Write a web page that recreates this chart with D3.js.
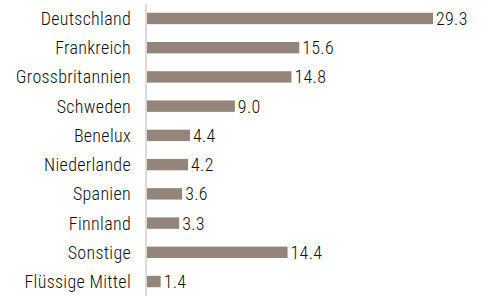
<!DOCTYPE html>
<html>
<head>
<meta charset="utf-8">
<script src="https://cdn.jsdelivr.net/npm/d3@7"></script>
<style>
  body { margin: 0; background: #fff; }
  text { font-family: "Roboto Condensed", "Liberation Sans", sans-serif; font-weight: 300; }
</style>
</head>
<body>
<div id="chart"></div>
<script>
let categories = ["Deutschland", "Frankreich", "Grossbritannien", "Schweden", "Benelux",
    "Niederlande", "Spanien", "Finnland", "Sonstige", "Flüssige Mittel"];
let values = [29.3, 15.6, 14.8, 9.0, 4.4, 4.2, 3.6, 3.3, 14.4, 1.4];

let margin = { top: 4, right: 10, bottom: 0, left: 146 },
    width = 482 - margin.left - margin.right,
    height = 296 - margin.top - margin.bottom;

let svg = d3.select("#chart")
    .append("svg")
    .attr("width", 482)
    .attr("height", 296)
    .append("g")
    .attr("transform", "translate(" + margin.left + "," + margin.top + ")");

let y = d3.scaleBand()
    .domain(categories)
    .range([0, height])
    .paddingInner(0.61)
    .paddingOuter(0.3);

let x = d3.scaleLinear()
    .domain([0, 29.3])
    .range([1, 287]);

svg.selectAll("rect")
    .data(values)
    .enter()
    .append("rect")
    .attr("x", x(0))
    .attr("y", function (d, i) { return y(categories[i]); })
    .attr("width", function (d) { return x(d) - x(0); })
    .attr("height", y.bandwidth())
    .style("fill", "#948479");

// vertical axis line
svg.append("line")
    .attr("x1", 0).attr("x2", 0)
    .attr("y1", 0).attr("y2", height + 4)
    .style("stroke", "#cfcfcf")
    .style("stroke-width", 1.5);

svg.selectAll(".cat")
    .data(categories)
    .enter()
    .append("text")
    .attr("x", -15)
    .attr("y", function (d) { return y(d) + y.bandwidth() / 2; })
    .attr("dy", "0.36em")
    .attr("text-anchor", "end")
    .attr("font-size", "18px")
    .attr("letter-spacing", "0.3px")
    .attr("fill", "#111")
    .text(function (d) { return d; });

svg.selectAll(".val")
    .data(values)
    .enter()
    .append("text")
    .attr("x", function (d) { return x(d) + 3; })
    .attr("y", function (d, i) { return y(categories[i]) + y.bandwidth() / 2; })
    .attr("dy", "0.36em")
    .attr("font-size", "18px")
    .attr("letter-spacing", "0.3px")
    .attr("fill", "#111")
    .text(function (d) { return d.toFixed(1); });
</script>
</body>
</html>
